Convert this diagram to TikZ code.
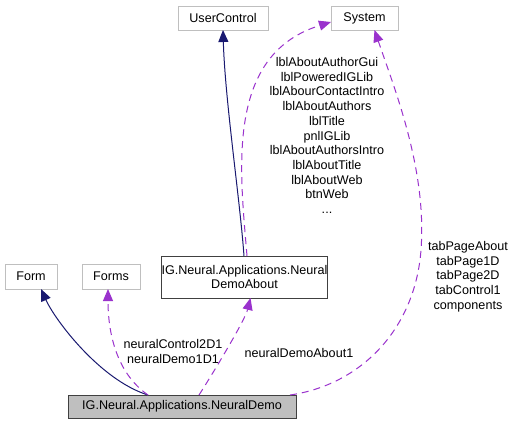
\documentclass[tikz,border=0pt]{standalone}
\usepackage{fontspec}
\setmainfont{Liberation Sans}
\usetikzlibrary{arrows.meta,calc}
\definecolor{navyedge}{HTML}{191970}
\definecolor{purpedge}{HTML}{9A32CD}
\definecolor{extgray}{HTML}{BFBFBF}
\begin{document}
\begin{tikzpicture}[x=1pt,y=-1pt,
  every node/.style={font=\fontsize{12.6}{14.7}\selectfont, inner sep=0pt, outer sep=0pt},
  extbox/.style={draw=extgray, line width=0.9pt, fill=white, align=center},
  classbox/.style={draw=black!75, line width=1pt, fill=white, align=center},
  mainbox/.style={draw=black!75, line width=1pt, fill=extgray, align=center},
  inherit/.style={draw=navyedge, line width=1pt, -{Triangle[length=12pt,width=10pt]}},
  usage/.style={draw=purpedge, line width=1pt, dash pattern=on 7pt off 5pt, -{Triangle[length=12pt,width=10pt]}},
  lbl/.style={align=center, fill=none}]
\useasboundingbox (0,0) rectangle (515,424);
\fill[white] (0,0) rectangle (515,424);

\node[extbox, minimum width=90pt, minimum height=24pt] (uc) at (223,18) {UserControl};
\node[extbox, minimum width=67pt, minimum height=24pt] (sys) at (364.5,18) {System};
\node[extbox, minimum width=52pt, minimum height=25pt] (form) at (31,276.5) {Form};
\node[extbox, minimum width=58pt, minimum height=25pt] (forms) at (111,276.5) {Forms};
\node[classbox, minimum width=161pt, minimum height=42pt] (about) at (244.5,277) {IG.Neural.Applications.Neural\\DemoAbout};
\node[mainbox, minimum width=228pt, minimum height=23pt] (nd) at (182,406.5) {IG.Neural.Applications.NeuralDemo};

% inheritance
\draw[inherit] ([xshift=-34pt]nd.north) .. controls (100,380) and (55,320) .. ([xshift=10pt]form.south);
\draw[inherit] ([xshift=-0.5pt]about.north) .. controls (240,200) and (225,100) .. (uc.south);

% usage
\draw[usage] ([xshift=-34pt]nd.north) .. controls (115,372) and (108,330) .. ([xshift=-3pt]forms.south);
\draw[usage] ([xshift=17pt]nd.north) .. controls (215,370) and (245,320) .. ([xshift=6pt]about.south);
\draw[usage] ([xshift=108pt]nd.north) .. controls (360,385) and (415,330) .. (421,250)
   .. controls (427,170) and (395,90) .. ([xshift=10pt]sys.south);
\draw[usage] ([xshift=2.5pt]about.north) .. controls (240,170) and (225,55) .. ([yshift=-4pt]sys.west);

% labels
\node[lbl] (l1) at (327,135.5) {lblAboutAuthorGui\\lblPoweredIGLib\\lblAbourContactIntro\\lblAboutAuthors\\lblTitle\\pnlIGLib\\lblAboutAuthorsIntro\\lblAboutTitle\\lblAboutWeb\\btnWeb\\...};
\node[lbl] (l2) at (468,276.5) {tabPageAbout\\tabPage1D\\tabPage2D\\tabControl1\\components};
\node[lbl] (l3) at (173,351.5) {neuralControl2D1\\neuralDemo1D1};
\node[lbl] (l4) at (299,353) {neuralDemoAbout1};
\end{tikzpicture}
\end{document}
